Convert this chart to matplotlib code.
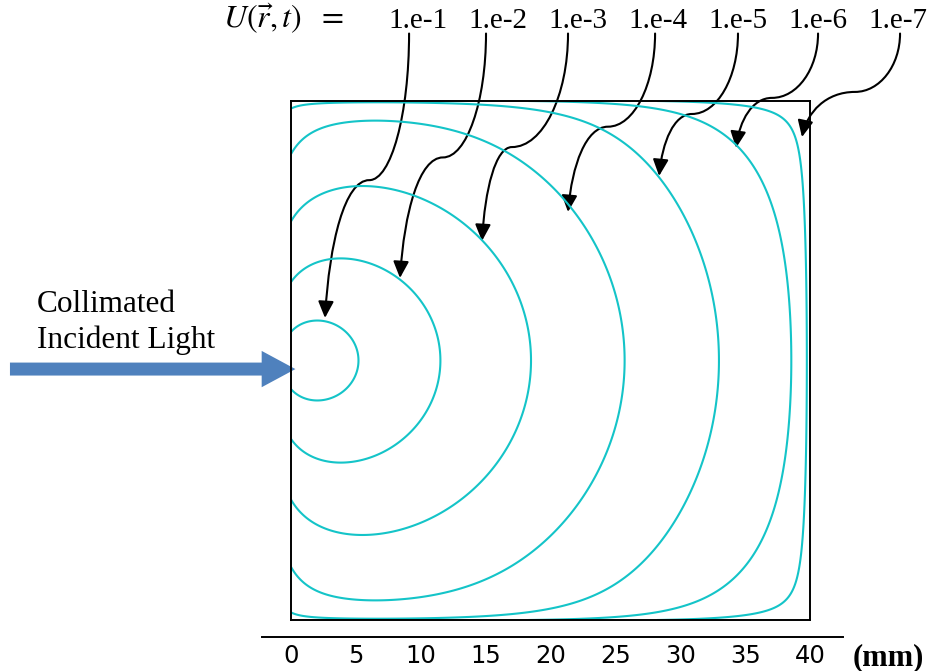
import numpy as np
import matplotlib
matplotlib.use("Agg")
import matplotlib.pyplot as plt
from matplotlib.path import Path
from matplotlib.patches import FancyArrowPatch, FancyArrow

# Niveaux de U(r,t) tracés (une courbe par décade)
levels = [1e-1, 1e-2, 1e-3, 1e-4, 1e-5, 1e-6, 1e-7]
level_labels = ["1.e-1", "1.e-2", "1.e-3", "1.e-4", "1.e-5", "1.e-6", "1.e-7"]
tick_mm = [0, 5, 10, 15, 20, 25, 30, 35, 40]
side_mm = 40.0

# Paramètres du modèle de diffusion (source sous la surface + sources images)
mu_eff = 0.2937      # atténuation effective (1/mm)
gauss_k = 0.0001     # terme quadratique (1/mm^2)
power_r = 0.4225     # exposant de la décroissance en 1/r^q
src_depth = 1.201    # profondeur de la source (mm)
z_entry = 1.19       # frontière extrapolée côté entrée (mm)
z_topbot = 0.0675    # frontière extrapolée haut / bas (mm)
z_back = 0.3         # frontière extrapolée face arrière (mm)
aniso_y = 0.8937     # anisotropie verticale
strength = 0.70586   # intensité de la source

# Flèches d'annotation : départ (sous l'étiquette), coude, pointe -- en mm
pointer_start = [(9.10, 45.2), (15.03, 45.2), (21.35, 45.2), (28.06, 45.2),
                 (34.45, 45.2), (40.62, 45.2), (46.94, 45.2)]
pointer_knee = [(6.03, 33.9), (11.71, 35.65), (17.03, 36.45), (24.43, 38.02),
                (30.90, 39.0), (37.07, 40.24), (43.47, 40.7)]
pointer_tip = [(2.62, 23.28), (8.40, 26.36), (14.72, 29.21), (21.35, 31.45),
               (28.37, 34.22), (34.30, 36.38), (39.38, 37.22)]


def fluence(X, Y):
    a, b = -z_entry, side_mm + z_back
    c, d = -z_topbot, side_mm + z_topbot
    y0 = side_mm / 2
    xs = [(src_depth, 1), (2 * a - src_depth, -1), (2 * b - src_depth, -1)]
    ys = [(y0, 1), (2 * c - y0, -1), (2 * d - y0, -1)]
    tot = np.zeros_like(X)
    for sx, gx in xs:
        for sy, gy in ys:
            r = np.sqrt((X - sx) ** 2 + ((Y - sy) / aniso_y) ** 2) + 1e-6
            tot += gx * gy * np.exp(-mu_eff * r - gauss_k * r * r) / r ** power_r
    return strength * tot


fig = plt.figure(figsize=(9.33, 6.71), dpi=100)
ax = fig.add_axes([291 / 933, 51 / 671, 519 / 933, 519 / 671])

g = np.linspace(0, side_mm, 801)
X, Y = np.meshgrid(g, g)
U = fluence(X, Y)
ax.contour(X, Y, U, levels=sorted(levels), colors="#14C4C8", linewidths=1.5)

for s in ax.spines.values():
    s.set_linewidth(1.4)
    s.set_color("black")
ax.set_xticks([])
ax.set_yticks([])

# Etiquettes des niveaux en haut
lab_x = [9.79 + 6.166 * i for i in range(len(level_labels))]
for x, t in zip(lab_x, level_labels):
    ax.text(x, 45.6, t, ha="center", va="baseline", fontsize=21,
            family="Liberation Serif", clip_on=False)
plt.rcParams["mathtext.fontset"] = "stix"
ax.text(-5.25, 45.6, r"$U(\vec{r},t)\ \ =$", ha="left", va="baseline",
        fontsize=23, clip_on=False)

# Flèches courbes vers chaque courbe de niveau
for (sx, sy), (kx, ky), (tx, ty) in zip(pointer_start, pointer_knee, pointer_tip):
    verts = [(sx, sy), (sx, sy + 0.55 * (ky - sy)), (kx + 0.55 * (sx - kx), ky), (kx, ky),
             (kx - 0.55 * (kx - tx), ky), (tx + 0.1 * (kx - tx), ty + 0.55 * (ky - ty)), (tx, ty)]
    codes = [Path.MOVETO] + [Path.CURVE4] * 6
    arr = FancyArrowPatch(path=Path(verts, codes), arrowstyle="-|>,head_length=10,head_width=4.7",
                          color="black", lw=1.5, transform=ax.transData, clip_on=False)
    ax.add_patch(arr)

# Lumière incidente
ax.add_patch(FancyArrow(-21.66, 19.34, 22.0, 0, width=1.0, head_width=2.8, head_length=2.6,
                        length_includes_head=True, color="#4F81BD", lw=0, clip_on=False))
ax.text(-19.58, 23.76, "Collimated", ha="left", va="baseline", fontsize=22.5,
        family="Liberation Serif", clip_on=False)
ax.text(-19.58, 20.96, "Incident Light", ha="left", va="baseline", fontsize=22.5,
        family="Liberation Serif", clip_on=False)

ax.set_xlim(0, side_mm)
ax.set_ylim(0, side_mm)

# Echelle horizontale sous la boîte
ax2 = fig.add_axes([262 / 933, 34 / 671, 581 / 933, 1e-4])
for k in ("top", "left", "right"):
    ax2.spines[k].set_visible(False)
ax2.spines["bottom"].set_linewidth(1.4)
ax2.set_xlim((262 - 291) / 12.975, (843 - 291) / 12.975)
ax2.set_yticks([])
ax2.set_xticks(tick_mm)
ax2.tick_params(axis="x", length=0, pad=5, labelsize=17.5)
ax.text(43.31, -3.45, "(mm)", ha="left", va="baseline", fontsize=22, fontweight="bold",
        family="Liberation Serif", clip_on=False)

fig.savefig("out.png", dpi=100)
